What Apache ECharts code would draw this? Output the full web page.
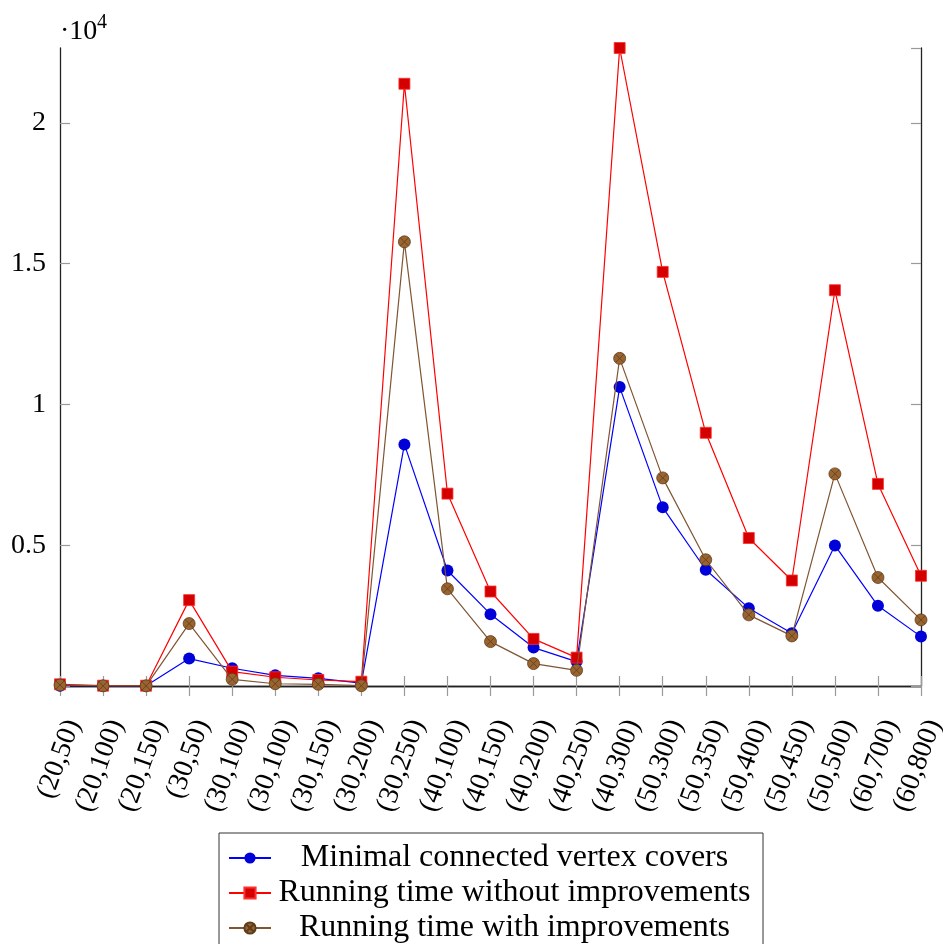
<!DOCTYPE html>
<html>
<head>
<meta charset="utf-8">
<script src="https://cdn.jsdelivr.net/npm/echarts@6/dist/echarts.min.js"></script>
<style>
  html, body { margin: 0; padding: 0; background: #fff; }
  #chart { width: 943px; height: 944px; }
</style>
</head>
<body>
<div id="chart"></div>
<script>
// Instance sizes (vertices, edges)
const categories = ['(20,50)', '(20,100)', '(20,150)', '(30,50)', '(30,100)', '(30,100)', '(30,150)',
  '(30,200)', '(30,250)', '(40,100)', '(40,150)', '(40,200)', '(40,250)', '(40,300)',
  '(50,300)', '(50,350)', '(50,400)', '(50,450)', '(50,500)', '(60,700)', '(60,800)'];

// Number of minimal connected vertex covers
const coverCounts = [10, 5, 5, 973, 630, 380, 274, 100, 8580, 4103, 2550, 1364, 866, 10616,
  6345, 4128, 2765, 1875, 4993, 2847, 1754];

// Running time without improvements
const timeWithout = [60, 10, 10, 3050, 510, 310, 214, 153, 21390, 6833, 3356, 1673, 1008, 22660,
  14708, 8993, 5256, 3747, 14057, 7178, 3915];

// Running time with improvements
const timeWith = [36, 5, 5, 2217, 238, 80, 60, 10, 15776, 3452, 1577, 795, 558, 11637,
  7391, 4484, 2527, 1779, 7534, 3854, 2349];

const yTicks = [5000, 10000, 15000, 20000];
const seriesNames = ['Minimal connected vertex covers', 'Running time without improvements', 'Running time with improvements'];

const FONT = 'Liberation Serif';
const yMax = Math.max(...timeWithout, ...timeWith, ...coverCounts);

// circle with a cross inside (otimes mark)
const otimes = 'path://M20,10 A10,10 0 1,1 0,10 A10,10 0 1,1 20,10 Z M2.93,2.93 L17.07,17.07 M17.07,2.93 L2.93,17.07';

const tickStyle = { show: true, inside: true, length: 10, lineStyle: { color: '#9a9a9a', width: 1.2 } };
const frameLine = { show: true, lineStyle: { color: '#222', width: 1.3 } };

const chart = echarts.init(document.getElementById('chart'), null, { renderer: 'canvas' });

chart.setOption({
  animation: false,
  backgroundColor: '#fff',
  grid: { left: 60, right: 22, top: 48, bottom: 258, containLabel: false, outerBoundsMode: 'none' },
  graphic: [
    { type: 'text', left: 60, top: 18, style: { text: '·10', font: '28px "Liberation Serif"', fill: '#000' } },
    { type: 'text', left: 97, top: 13, style: { text: '4', font: '20px "Liberation Serif"', fill: '#000' } }
  ],
  legend: {
    orient: 'vertical',
    left: 219,
    top: 833,
    height: 300,
    padding: [9, 10, 8, 9],
    itemWidth: 42,
    itemHeight: 14,
    itemGap: 3,
    borderColor: '#333',
    borderWidth: 1,
    backgroundColor: '#fff',
    data: seriesNames,
    formatter: '{t|{name}}',
    textStyle: {
      fontFamily: FONT, fontSize: 32, color: '#000',
      rich: { t: { width: 477, align: 'center', fontFamily: FONT, fontSize: 32, lineHeight: 32, color: '#000' } }
    }
  },
  xAxis: [
    {
      type: 'category', data: categories, boundaryGap: false, position: 'bottom',
      axisLine: frameLine, axisTick: Object.assign({ interval: 0 }, tickStyle),
      axisLabel: {
        interval: 0, rotate: 70, margin: 30, verticalAlign: 'top',
        fontFamily: FONT, fontSize: 28, color: '#000'
      },
      splitLine: { show: false }
    },
    {
      type: 'category', data: categories, boundaryGap: false, position: 'top',
      axisLine: frameLine, axisTick: Object.assign({ interval: 0 }, tickStyle),
      axisLabel: { show: false }, splitLine: { show: false }
    }
  ],
  yAxis: [
    {
      type: 'value', min: 0, max: yMax, interval: 5000, position: 'left',
      axisLine: frameLine, axisTick: tickStyle, splitLine: { show: false },
      axisLabel: {
        fontFamily: FONT, fontSize: 28, color: '#000', margin: 14, showMaxLabel: false,
        formatter: v => yTicks.includes(v) ? String(v / 10000) : ''
      }
    },
    {
      type: 'value', min: 0, max: yMax, interval: 5000, position: 'right',
      axisLine: frameLine, axisTick: tickStyle, splitLine: { show: false },
      axisLabel: { show: false }
    }
  ],
  series: [
    {
      name: seriesNames[0], type: 'line', data: coverCounts, z: 3,
      symbol: 'circle', symbolSize: 12, showAllSymbol: true,
      lineStyle: { color: '#0000ff', width: 1.2 },
      itemStyle: { color: '#0000d8', borderColor: '#0000d8', borderWidth: 0 }
    },
    {
      name: seriesNames[1], type: 'line', data: timeWithout, z: 4,
      symbol: 'rect', symbolSize: 11, showAllSymbol: true,
      lineStyle: { color: '#ff0000', width: 1.2 },
      itemStyle: { color: '#d40000', borderColor: '#ff3030', borderWidth: 0.8 }
    },
    {
      name: seriesNames[2], type: 'line', data: timeWith, z: 5,
      symbol: otimes, symbolSize: 12, showAllSymbol: true,
      lineStyle: { color: '#7f5532', width: 1.2 },
      itemStyle: { color: '#99642f', borderColor: '#5e3d1c', borderWidth: 0.8 }
    }
  ]
});
</script>
</body>
</html>
